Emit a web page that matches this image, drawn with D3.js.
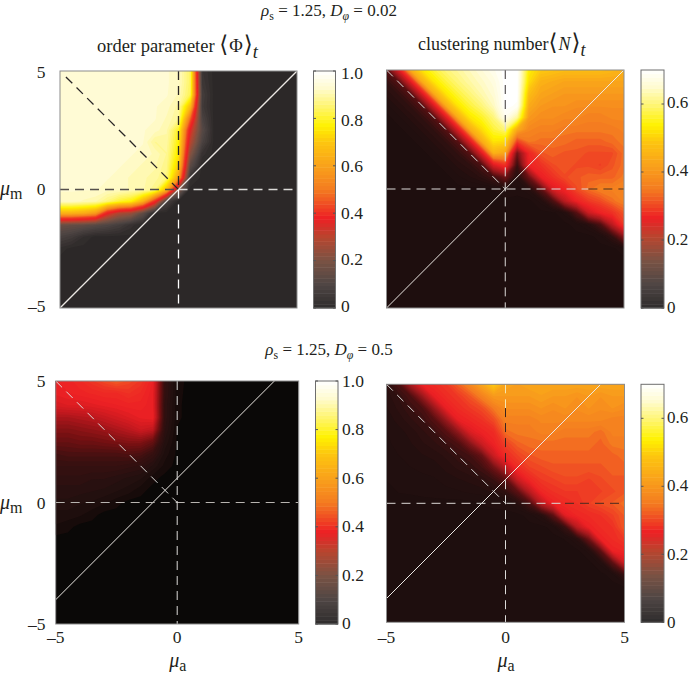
<!DOCTYPE html>
<html><head><meta charset="utf-8">
<script src="https://cdnjs.cloudflare.com/ajax/libs/d3/7.8.5/d3.min.js"></script>
<style>html,body{margin:0;padding:0;background:#fff}svg{display:block}text{font-family:"Liberation Serif",serif;fill:#231f20}</style>
</head><body><svg id="c" width="690" height="673"></svg>
<script>
// Parameter axes (rows run from mu_m = 5 at top to -5 at bottom; columns mu_a = -5 to 5)
const muAxis = [-5,-4.5,-4,-3.5,-3,-2.5,-2,-1.5,-1,-0.5,0,0.5,1,1.5,2,2.5,3,3.5,4,4.5,5];
const muRows = [5,4.5,4,3.5,3,2.5,2,1.5,1,0.5,0,-0.5,-1,-1.5,-2,-2.5,-3,-3.5,-4,-4.5,-5];
const axisTicks = [-5,0,5];
const orderTicks = [0,0.2,0.4,0.6,0.8,1.0];
const clusterTicks = [0,0.2,0.4,0.6];

const orderLowNoise = [
[.93,.93,.93,.93,.93,.93,.93,.93,.93,.93,.92,.84,.04,0,0,0,0,0,0,0,0],
[.93,.93,.93,.93,.93,.93,.93,.93,.93,.93,.92,.84,.05,0,0,0,0,0,0,0,0],
[.93,.93,.93,.93,.93,.93,.93,.93,.93,.93,.91,.83,.07,0,0,0,0,0,0,0,0],
[.93,.93,.93,.93,.93,.93,.93,.93,.93,.92,.89,.68,.06,0,0,0,0,0,0,0,0],
[.93,.93,.93,.93,.93,.93,.93,.93,.93,.91,.88,.50,.09,0,0,0,0,0,0,0,0],
[.93,.93,.93,.93,.93,.93,.93,.93,.92,.90,.80,.36,.12,0,0,0,0,0,0,0,0],
[.93,.93,.93,.93,.93,.93,.93,.93,.88,.89,.78,.30,.09,0,0,0,0,0,0,0,0],
[.93,.93,.93,.93,.93,.93,.93,.92,.91,.88,.76,.22,.03,0,0,0,0,0,0,0,0],
[.93,.93,.93,.93,.93,.93,.92,.91,.90,.87,.72,.13,0,0,0,0,0,0,0,0,0],
[.93,.93,.93,.93,.93,.92,.91,.90,.89,.86,.62,.03,0,0,0,0,0,0,0,0,0],
[.93,.93,.93,.93,.92,.92,.91,.90,.87,.68,.22,0,0,0,0,0,0,0,0,0,0],
[.92,.92,.91,.90,.86,.81,.78,.66,.42,.08,0,0,0,0,0,0,0,0,0,0,0],
[.66,.66,.64,.60,.38,.28,.25,.14,0,0,0,0,0,0,0,0,0,0,0,0,0],
[.16,.15,.14,.12,.10,.07,.03,0,0,0,0,0,0,0,0,0,0,0,0,0,0],
[.08,.06,.02,0,0,0,0,0,0,0,0,0,0,0,0,0,0,0,0,0,0],
[.015,0,0,0,0,0,0,0,0,0,0,0,0,0,0,0,0,0,0,0,0],
[0,0,0,0,0,0,0,0,0,0,0,0,0,0,0,0,0,0,0,0,0],
[0,0,0,0,0,0,0,0,0,0,0,0,0,0,0,0,0,0,0,0,0],
[0,0,0,0,0,0,0,0,0,0,0,0,0,0,0,0,0,0,0,0,0],
[0,0,0,0,0,0,0,0,0,0,0,0,0,0,0,0,0,0,0,0,0],
[0,0,0,0,0,0,0,0,0,0,0,0,0,0,0,0,0,0,0,0,0]];

const clusterLowNoise = [
[.09,.24,.45,.53,.57,.60,.62,.64,.66,.68,.70,.70,.54,.50,.49,.48,.48,.48,.48,.47,.46],
[.05,.09,.24,.45,.53,.57,.60,.625,.645,.665,.70,.70,.52,.46,.45,.44,.44,.44,.44,.44,.44],
[.03,.05,.09,.24,.45,.53,.57,.60,.63,.655,.70,.70,.48,.44,.43,.42,.42,.42,.42,.42,.42],
[.012,.03,.05,.09,.24,.45,.53,.57,.60,.64,.70,.69,.45,.42,.41,.41,.40,.40,.40,.40,.40],
[0,.012,.03,.05,.09,.24,.45,.53,.56,.60,.68,.62,.42,.40,.40,.39,.39,.38,.38,.39,.39],
[0,0,.012,.03,.05,.09,.24,.45,.52,.57,.60,.45,.39,.38,.38,.37,.37,.37,.37,.37,.38],
[0,0,0,.012,.03,.05,.09,.24,.45,.53,.52,.32,.37,.36,.36,.36,.35,.35,.35,.36,.37],
[0,0,0,0,.012,.03,.05,.09,.24,.46,.44,.12,.28,.34,.35,.34,.34,.33,.33,.33,.36],
[0,0,0,0,0,.012,.03,.045,.08,.24,.30,.06,.27,.30,.33,.34,.33,.33,.32,.34,.36],
[0,0,0,0,0,0,.012,.025,.04,.07,.12,.03,.12,.26,.30,.33,.34,.35,.35,.35,.37],
[0,0,0,0,0,0,0,0,0,.005,.02,.01,.03,.10,.24,.28,.33,.36,.38,.38,.39],
[0,0,0,0,0,0,0,0,0,0,0,0,0,.02,.08,.20,.27,.31,.33,.36,.38],
[0,0,0,0,0,0,0,0,0,0,0,0,0,0,0,.02,.09,.22,.27,.30,.34],
[0,0,0,0,0,0,0,0,0,0,0,0,0,0,0,0,.01,.03,.08,.20,.31],
[0,0,0,0,0,0,0,0,0,0,0,0,0,0,0,0,0,0,.01,.05,.15],
[0,0,0,0,0,0,0,0,0,0,0,0,0,0,0,0,0,0,0,0,.015],
[0,0,0,0,0,0,0,0,0,0,0,0,0,0,0,0,0,0,0,0,0],
[0,0,0,0,0,0,0,0,0,0,0,0,0,0,0,0,0,0,0,0,0],
[0,0,0,0,0,0,0,0,0,0,0,0,0,0,0,0,0,0,0,0,0],
[0,0,0,0,0,0,0,0,0,0,0,0,0,0,0,0,0,0,0,0,0],
[0,0,0,0,0,0,0,0,0,0,0,0,0,0,0,0,0,0,0,0,0]];

const orderHighNoise = [
[.38,.39,.41,.44,.47,.50,.47,.44,.38,.09,.015,0,0,0,0,0,0,0,0,0,0],
[.37,.38,.39,.40,.41,.41,.43,.41,.37,.09,.012,0,0,0,0,0,0,0,0,0,0],
[.34,.35,.35,.36,.37,.38,.39,.39,.37,.08,.01,0,0,0,0,0,0,0,0,0,0],
[.27,.27,.28,.29,.31,.33,.35,.37,.38,.08,.01,0,0,0,0,0,0,0,0,0,0],
[.22,.22,.23,.24,.25,.27,.29,.32,.30,.07,.005,0,0,0,0,0,0,0,0,0,0],
[.18,.18,.19,.19,.20,.21,.22,.22,.18,.05,.003,0,0,0,0,0,0,0,0,0,0],
[.13,.14,.14,.14,.14,.14,.15,.14,.10,.03,.002,0,0,0,0,0,0,0,0,0,0],
[.10,.10,.10,.10,.10,.10,.09,.08,.05,.015,0,0,0,0,0,0,0,0,0,0,0],
[.08,.08,.08,.07,.07,.06,.05,.04,.012,0,0,0,0,0,0,0,0,0,0,0,0],
[.06,.06,.06,.055,.05,.04,.03,.012,0,0,0,0,0,0,0,0,0,0,0,0,0],
[.05,.05,.04,.035,.025,.012,0,0,0,0,0,0,0,0,0,0,0,0,0,0,0],
[.03,.03,.025,.012,0,0,0,0,0,0,0,0,0,0,0,0,0,0,0,0,0],
[.02,.012,0,0,0,0,0,0,0,0,0,0,0,0,0,0,0,0,0,0,0],
[0,0,0,0,0,0,0,0,0,0,0,0,0,0,0,0,0,0,0,0,0],
[0,0,0,0,0,0,0,0,0,0,0,0,0,0,0,0,0,0,0,0,0],
[0,0,0,0,0,0,0,0,0,0,0,0,0,0,0,0,0,0,0,0,0],
[0,0,0,0,0,0,0,0,0,0,0,0,0,0,0,0,0,0,0,0,0],
[0,0,0,0,0,0,0,0,0,0,0,0,0,0,0,0,0,0,0,0,0],
[0,0,0,0,0,0,0,0,0,0,0,0,0,0,0,0,0,0,0,0,0],
[0,0,0,0,0,0,0,0,0,0,0,0,0,0,0,0,0,0,0,0,0],
[0,0,0,0,0,0,0,0,0,0,0,0,0,0,0,0,0,0,0,0,0]];

const clusterHighNoise = [
[.04,.08,.18,.27,.29,.31,.35,.39,.44,.50,.44,.43,.44,.44,.44,.44,.44,.44,.44,.44,.44],
[.03,.05,.08,.16,.26,.29,.31,.34,.38,.42,.42,.42,.42,.43,.42,.42,.41,.42,.41,.42,.42],
[.025,.04,.06,.08,.16,.26,.29,.31,.33,.37,.40,.40,.40,.41,.40,.41,.40,.41,.40,.41,.40],
[.02,.03,.045,.06,.09,.16,.26,.28,.30,.33,.38,.38,.38,.39,.39,.39,.39,.39,.39,.38,.38],
[.015,.022,.03,.045,.06,.09,.15,.24,.27,.29,.36,.37,.37,.38,.38,.37,.37,.37,.36,.38,.38],
[.012,.02,.025,.035,.045,.06,.08,.14,.22,.27,.32,.35,.36,.36,.36,.36,.36,.36,.35,.37,.37],
[.01,.015,.02,.025,.03,.04,.055,.07,.11,.22,.29,.32,.34,.35,.35,.35,.35,.35,.35,.35,.36],
[.008,.012,.015,.018,.02,.03,.04,.05,.07,.12,.20,.29,.32,.33,.34,.34,.34,.34,.34,.35,.35],
[.005,.008,.01,.012,.014,.02,.025,.03,.04,.06,.10,.22,.28,.31,.32,.33,.33,.32,.33,.34,.34],
[0,.005,.006,.008,.01,.012,.014,.018,.02,.03,.05,.10,.20,.28,.30,.31,.31,.32,.32,.33,.34],
[0,0,0,0,0,0,0,0,.005,.008,.01,.03,.08,.20,.27,.29,.30,.32,.335,.345,.36],
[0,0,0,0,0,0,0,0,0,0,0,0,.01,.03,.10,.25,.28,.29,.30,.32,.345],
[0,0,0,0,0,0,0,0,0,0,0,0,0,0,.01,.06,.20,.27,.29,.30,.345],
[0,0,0,0,0,0,0,0,0,0,0,0,0,0,0,.005,.03,.12,.27,.29,.31],
[0,0,0,0,0,0,0,0,0,0,0,0,0,0,0,0,0,.02,.10,.27,.28],
[0,0,0,0,0,0,0,0,0,0,0,0,0,0,0,0,0,0,.02,.10,.23],
[0,0,0,0,0,0,0,0,0,0,0,0,0,0,0,0,0,0,0,.01,.06],
[0,0,0,0,0,0,0,0,0,0,0,0,0,0,0,0,0,0,0,0,.005],
[0,0,0,0,0,0,0,0,0,0,0,0,0,0,0,0,0,0,0,0,0],
[0,0,0,0,0,0,0,0,0,0,0,0,0,0,0,0,0,0,0,0,0],
[0,0,0,0,0,0,0,0,0,0,0,0,0,0,0,0,0,0,0,0,0]];

// Colour maps: normalised level -> colour
const barStops   = [0,.10,.20,.30,.38,.44,.50,.60,.70,.77,.85,.93,1];
const barColors  = ["#2e2c2c","#4f4644","#7a5344","#b8452f","#ed2024","#f04e23","#f47b20","#f9a11b","#fdc60f","#fff200","#fff56e","#fffbd0","#ffffff"];
const warmColors = ["#ed2024","#ee2f24","#f04e23","#f47b20","#f9a11b","#fdc60f","#fff200","#fff56e","#fffbd0","#ffffff"];
const warmStops  = [.38,.43,.48,.53,.62,.71,.78,.85,.93,1];
const greyLow    = {stops:[0,.10,.20,.30], colors:["#2c2828","#4f4644","#7a5344","#b8452f"]};
const maroonLow  = {stops:[0,.03,.07,.14,.25], colors:["#1e0e0e","#230f0f","#2f1010","#5a1012","#a51a1e"]};
const blackLow   = {stops:[0,.02,.05,.12,.20,.30], colors:["#0a0807","#1a0c0b","#241010","#3c1010","#741012","#c0181e"]};

const svg = d3.select("#c");
const levels = 64;

function rich(x, y, parts, size, anchor){
  const t = svg.append("text").attr("x",x).attr("y",y).attr("font-size",size).attr("text-anchor",anchor||"start");
  let shift = 0;
  parts.forEach(p=>{
    const s = t.append("tspan").text(p.t).attr("font-style",p.i?"italic":"normal");
    const d = (p.sub||0);
    s.attr("dy", d-shift); shift = d;
    if(p.sub) s.attr("font-size", size*(p.s||0.72));
    if(p.fs) s.attr("font-size", p.fs);
    if(p.dx) s.attr("dx",p.dx);
    if(p.f) s.style("font-family",p.f);
  });
}

function drawPanel(cfg){
  const x = d3.scaleLinear().domain([-5,5]).range([cfg.x0,cfg.x1]);
  const y = d3.scaleLinear().domain([-5,5]).range([cfg.y1,cfg.y0]);
  const color = d3.scaleLinear().domain([...cfg.low.stops,...warmStops]).range([...cfg.low.colors,...warmColors]).clamp(true);
  const id = "clip"+cfg.id;
  svg.append("clipPath").attr("id",id).append("rect").attr("x",cfg.x0).attr("y",cfg.y0).attr("width",cfg.x1-cfg.x0).attr("height",cfg.y1-cfg.y0);
  const g = svg.append("g").attr("clip-path",`url(#${id})`);
  g.append("rect").attr("x",cfg.x0).attr("y",cfg.y0).attr("width",cfg.x1-cfg.x0).attr("height",cfg.y1-cfg.y0).attr("fill",color(0));
  const n = muAxis.length, step = muAxis[1]-muAxis[0];
  const flat = cfg.values.flat();
  const thresholds = d3.range(levels).map(i=>cfg.max*(i+0.4)/levels);
  const contours = d3.contours().size([n,muRows.length]).thresholds(thresholds)(flat);
  const path = d3.geoPath(d3.geoTransform({point(px,py){
    this.stream.point(x(muAxis[0]+(px-.5)*step), y(muRows[0]-(py-.5)*step));
  }}));
  g.selectAll("path.c").data(contours).join("path").attr("class","c")
    .attr("d",path).attr("fill",d=>color((d.value+cfg.max*0.6/levels)/cfg.max));
  // reference lines
  const line = d3.line().x(d=>x(d[0])).y(d=>y(d[1]));
  cfg.solid.forEach(s=>g.append("path").attr("d",line(s)).attr("stroke","#ece8e4").attr("stroke-width",cfg.lw).attr("fill","none"));
  cfg.dashed.forEach(s=>g.append("path").attr("d",line(s.p)).attr("stroke",s.c).attr("stroke-width",cfg.lw).attr("fill","none").attr("stroke-dasharray",s.d||"9,6"));
  svg.append("rect").attr("x",cfg.x0).attr("y",cfg.y0).attr("width",cfg.x1-cfg.x0).attr("height",cfg.y1-cfg.y0).attr("fill","none").attr("stroke","#8c8c8c").attr("stroke-width",1);
  // colour bar
  const bar = d3.scaleLinear().domain([0,cfg.max]).range([cfg.y1,cfg.y0]);
  const barColor = d3.scaleLinear().domain(barStops).range(barColors);
  svg.append("g").selectAll("rect").data(d3.range(levels)).join("rect")
    .attr("x",cfg.bx0).attr("width",cfg.bx1-cfg.bx0)
    .attr("y",i=>bar(cfg.max*(i+1)/levels)).attr("height",(cfg.y1-cfg.y0)/levels+0.5)
    .attr("fill",i=>barColor((i+.5)/levels));
  svg.append("rect").attr("x",cfg.bx0).attr("y",cfg.y0).attr("width",cfg.bx1-cfg.bx0).attr("height",cfg.y1-cfg.y0).attr("fill","none").attr("stroke","#6e6e6e").attr("stroke-width",1);
  const labelY = d3.scaleLinear().domain([0,cfg.max]).range(cfg.labelRange);
  cfg.ticks.forEach(v=>{
    [[cfg.bx0,cfg.bx0+2.5],[cfg.bx1-2.5,cfg.bx1]].forEach(e=>{
      svg.append("line").attr("x1",e[0]).attr("x2",e[1]).attr("y1",bar(v)).attr("y2",bar(v)).attr("stroke","#555");
    });
    svg.append("text").attr("x",cfg.lx).attr("y",labelY(v)).attr("font-size",cfg.lfs||17.5).text(v===0?"0":d3.format(".1f")(v));
  });
  // axes labels
  if(cfg.left){
    const ly = d3.scaleLinear().domain([-5,5]).range(cfg.left);
    axisTicks.forEach(v=>svg.append("text").attr("x",45.5).attr("y",ly(v)).attr("font-size",17.5).attr("text-anchor","end").text(v<0?"–"+(-v):v));
    rich(0,ly(0),[{t:"μ",i:1},{t:"m",sub:4,s:.8}],20);
  }
  if(cfg.bottom){
    axisTicks.forEach(v=>svg.append("text").attr("x",x(v)).attr("y",cfg.bottom).attr("font-size",17.5).attr("text-anchor","middle").text(v<0?"–"+(-v):v));
    rich(x(0)-8,667,[{t:"μ",i:1},{t:"a",sub:4,s:.8}],20);
  }
}

const lightDash="#dcdad8", darkDash="#2a2626";
drawPanel({id:1,lw:1.3,values:orderLowNoise,max:1,low:greyLow,x0:60,x1:297,y0:71,y1:308,bx0:313.5,bx1:335.5,lx:341,ticks:orderTicks,labelRange:[312,79],left:[312,78],
  solid:[[[-5,-5],[5,5]]],
  dashed:[{p:[[-4.75,4.75],[0,0]],c:darkDash},{p:[[-5,0],[0,0]],c:"#55504c"},{p:[[0,0],[5,0]],c:lightDash},{p:[[0,5],[0,0]],c:darkDash},{p:[[0,0],[0,-5]],c:"#ffffff"}]});
drawPanel({id:2,lw:1,lfs:17,values:clusterLowNoise,max:0.7,low:maroonLow,x0:386.5,x1:624,y0:70,y1:308,bx0:641,bx1:664,lx:667,ticks:clusterTicks,labelRange:[313,74],
  solid:[[[-5,-5],[5,5]]],
  dashed:[{p:[[-5,5],[0,0]],c:lightDash},{p:[[-5,0],[3.5,0]],c:lightDash},{p:[[3.5,0],[5,0]],c:"#4a3020"},{p:[[0,5],[0,2.8]],c:"#3a3434"},{p:[[0,2.8],[0,-5]],c:lightDash}]});
drawPanel({id:3,lw:1,values:orderHighNoise,max:1,low:blackLow,x0:55.7,x1:298.7,y0:381,y1:624,bx0:315.5,bx1:338,lx:342,ticks:orderTicks,labelRange:[629,387],left:[630,387],bottom:643,
  solid:[[[-5,-4],[4,5]]],
  dashed:[{p:[[-5,5],[0,0]],c:lightDash},{p:[[-5,0],[5,0]],c:"#b8b4b0"},{p:[[0,5],[0,-5]],c:lightDash}]});
drawPanel({id:4,lw:1,lfs:17,values:clusterHighNoise,max:0.7,low:maroonLow,x0:386.5,x1:624.5,y0:384.3,y1:622.3,bx0:641,bx1:664,lx:667,ticks:clusterTicks,labelRange:[628,389],bottom:643,
  solid:[[[-5,-4],[4,5]]],
  dashed:[{p:[[-5,5],[0,0]],c:lightDash},{p:[[-5,0],[2.5,0]],c:lightDash},{p:[[2.5,0],[5,0]],c:"#4a2a20"},{p:[[0,5],[0,4]],c:"#f5e6b0"},{p:[[0,4],[0,1.6]],c:"#3a2420"},{p:[[0,1.6],[0,-5]],c:lightDash}]});

// Titles
const titleA = [{t:"ρ",i:1},{t:"s",sub:4,s:.7},{t:" = 1.25, "},{t:"D",i:1},{t:"φ",i:1,sub:4,s:.7},{t:" = 0.02"}];
const titleB = [{t:"ρ",i:1},{t:"s",sub:4,s:.7},{t:" = 1.25, "},{t:"D",i:1},{t:"φ",i:1,sub:4,s:.7},{t:" = 0.5"}];
rich(329,16,titleA,17,"middle");
rich(329,355,titleB,17,"middle");
rich(97,52,[{t:"order parameter "},{t:"⟨",f:"DejaVu Serif",fs:23},{t:"Φ",dx:1},{t:"⟩",f:"DejaVu Serif",fs:23,dx:1},{t:"t",i:1,sub:6,s:1}],18.5);
rich(418,50,[{t:"clustering number"},{t:"⟨",f:"DejaVu Serif",fs:23},{t:"N",i:1,dx:1},{t:"⟩",f:"DejaVu Serif",fs:23,dx:1},{t:"t",i:1,sub:6,s:1}],18);
</script></body></html>
